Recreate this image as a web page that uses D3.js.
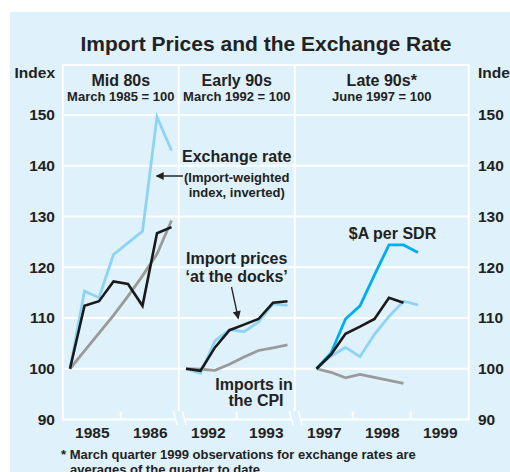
<!DOCTYPE html>
<html>
<head>
<meta charset="utf-8">
<style>
    body { margin: 0; background: #fff; }
    text { font-family: "Liberation Sans", Arial, sans-serif; font-weight: bold; fill: #222; }
</style>
</head>
<body>
<div id="vis"></div>
<script src="https://d3js.org/d3.v7.min.js"></script>
<script>
    // y axis ticks (index)
    let yTicks = [90, 100, 110, 120, 130, 140, 150];

    // the three episodes
    let panelNames = ["Mid 80s", "Early 90s", "Late 90s*"];
    let panelBases = ["March 1985 = 100", "March 1992 = 100", "June 1997 = 100"];
    let panelYears = [[1985, 1986], [1992, 1993], [1997, 1998, 1999]];
    // start of the first quarter shown in each panel
    let panelStarts = [1985, 1992, 1997.25];

    // quarterly series, mid 80s (Mar 1985 - Dec 1986)
    let exchMid80s = [100, 115.3, 114, 122.5, 124.8, 127.1, 149.6, 143];
    let importMid80s = [100, 112.4, 113.3, 117.2, 116.7, 112.4, 126.7, 127.9];
    let cpiMid80s = [100, 103.5, 107, 110.5, 114.3, 118.3, 122.6, 129.2];

    // early 90s (Mar 1992 - Dec 1993)
    let exchEarly90s = [100, 99.1, 105.5, 107.7, 107.3, 109.2, 112.8, 112.5];
    let importEarly90s = [100, 99.6, 104.2, 107.6, 108.7, 109.8, 113, 113.3];
    let cpiEarly90s = [100, 99.9, 99.7, 100.9, 102.3, 103.6, 104.1, 104.7];

    // late 90s (Jun 1997 - Mar 1999)
    let sdrLate90s = [100, 103.1, 109.8, 112.4, 118.5, 124.4, 124.4, 122.9];
    let exchLate90s = [100, 102.5, 104.2, 102.4, 106.8, 110.3, 113.3, 112.6];
    let importLate90s = [100, 102.8, 106.9, 108.3, 109.8, 114, 113];
    let cpiLate90s = [100, 99.3, 98.2, 98.9, 98.3, 97.7, 97.1];

    let colors = {exch: "#8dd4f4", sdr: "#00aeef", imp: "#1a1a1a", cpi: "#9a9a9a"};

    let panelSeries = [
        [["cpi", cpiMid80s], ["exch", exchMid80s], ["imp", importMid80s]],
        [["cpi", cpiEarly90s], ["exch", exchEarly90s], ["imp", importEarly90s]],
        [["cpi", cpiLate90s], ["exch", exchLate90s], ["sdr", sdrLate90s], ["imp", importLate90s]]
    ];

    let width = 510, height = 472;
    let plotLeft = 62.75, plotTop = 65, yearWidth = 58;
    let plotRight = plotLeft + yearWidth * 7;

    let svg = d3.select("#vis")
        .append("svg")
        .attr("width", width)
        .attr("height", height);

    // background panel
    svg.append("rect")
        .attr("x", 10).attr("y", 12)
        .attr("width", width).attr("height", height)
        .attr("fill", "#dff1fa");

    svg.append("text")
        .attr("x", 266).attr("y", 51)
        .attr("text-anchor", "middle")
        .style("font-size", "21px")
        .text("Import Prices and the Exchange Rate");

    let y = d3.scaleLinear()
        .domain([90, 150])
        .range([419.5, 115]);

    // gridlines
    svg.append("g")
        .selectAll("line")
        .data(yTicks.slice(1))
        .enter()
        .append("line")
        .attr("x1", plotLeft).attr("x2", plotRight)
        .attr("y1", d => y(d)).attr("y2", d => y(d))
        .attr("stroke", "#fff").attr("stroke-width", 2);

    // header top and outer border
    svg.append("line")
        .attr("x1", plotLeft - 1).attr("x2", plotRight + 1)
        .attr("y1", plotTop).attr("y2", plotTop)
        .attr("stroke", "#fff").attr("stroke-width", 2);
    [plotLeft, plotRight].forEach(function (px) {
        svg.append("line")
            .attr("x1", px).attr("x2", px)
            .attr("y1", plotTop).attr("y2", y(90))
            .attr("stroke", "#fff").attr("stroke-width", 2);
    });

    // y labels both sides
    let yAxisL = d3.axisLeft(y).tickValues(yTicks).tickSize(0).tickPadding(0);
    let gl = svg.append("g").attr("transform", "translate(55,0)").call(yAxisL);
    let yAxisR = d3.axisRight(y).tickValues(yTicks).tickSize(0).tickPadding(0);
    let gr = svg.append("g").attr("transform", "translate(478,0)").call(yAxisR);
    [gl, gr].forEach(function (g) {
        g.select(".domain").remove();
        g.selectAll("text")
            .style("font-size", "15.5px")
            .attr("fill", "#222");
        g.attr("font-family", null);
    });

    svg.append("text").attr("x", 55).attr("y", 78)
        .attr("text-anchor", "end").style("font-size", "15.5px").text("Index");
    svg.append("text").attr("x", 478).attr("y", 78)
        .style("font-size", "15.5px").text("Index");

    let arrowDefs = svg.append("defs");
    arrowDefs.append("marker")
        .attr("id", "arrow")
        .attr("viewBox", "0 0 10 10")
        .attr("refX", 9).attr("refY", 5)
        .attr("markerWidth", 9).attr("markerHeight", 8)
        .attr("markerUnits", "userSpaceOnUse")
        .attr("orient", "auto")
        .append("path")
        .attr("d", "M0,0 L10,5 L0,10 z")
        .attr("fill", "#222");

    let x0 = plotLeft;
    panelYears.forEach(function (years, p) {
        let x1 = x0 + yearWidth * years.length;
        let x = d3.scaleLinear()
            .domain([years[0], years[years.length - 1] + 1])
            .range([x0, x1]);
        let cx = (x0 + x1) / 2;

        // header text
        svg.append("text").attr("x", cx).attr("y", 86)
            .attr("text-anchor", "middle").style("font-size", "16px")
            .text(panelNames[p]);
        svg.append("text").attr("x", cx).attr("y", 101)
            .attr("text-anchor", "middle").style("font-size", "13px")
            .text(panelBases[p]);

        // panel separator and axis break
        if (p > 0) {
            svg.append("line")
                .attr("x1", x0).attr("x2", x0)
                .attr("y1", plotTop).attr("y2", 411)
                .attr("stroke", "#fff").attr("stroke-width", 2);
            [-5.5, 3.5].forEach(function (dx) {
                svg.append("line")
                    .attr("x1", x0 + dx).attr("x2", x0 + dx + 4)
                    .attr("y1", 411).attr("y2", 425)
                    .attr("stroke", "#fff").attr("stroke-width", 1.5);
            });
        }
        let a0 = p > 0 ? x0 + 5 : x0 - 1;
        let a1 = p < panelYears.length - 1 ? x1 - 3.5 : x1 + 1;
        svg.append("line")
            .attr("x1", a0).attr("x2", a1)
            .attr("y1", y(90)).attr("y2", y(90))
            .attr("stroke", "#fff").attr("stroke-width", 2);

        // year ticks between years
        svg.append("g")
            .selectAll("line")
            .data(years.slice(1))
            .enter()
            .append("line")
            .attr("x1", d => x(d)).attr("x2", d => x(d))
            .attr("y1", y(90) - 8).attr("y2", y(90))
            .attr("stroke", "#fff").attr("stroke-width", 2);

        // year labels centred in each year
        let xAxis = d3.axisBottom(x)
            .tickValues(years.map(d => d + 0.5))
            .tickSize(0).tickPadding(0)
            .tickFormat(d => String(Math.floor(d)));
        let gx = svg.append("g")
            .attr("transform", "translate(0,427)")
            .call(xAxis);
        gx.select(".domain").remove();
        gx.attr("font-family", null);
        gx.selectAll("text")
            .style("font-size", "15.5px")
            .attr("fill", "#222");

        // series
        let line = d3.line()
            .x((d, i) => x(panelStarts[p] + i * 0.25 + 0.125))
            .y(d => y(d));
        panelSeries[p].forEach(function (s) {
            svg.append("path")
                .datum(s[1])
                .attr("d", line)
                .attr("fill", "none")
                .attr("stroke", colors[s[0]])
                .attr("stroke-width", s[0] === "imp" ? 2.6 : 2.8)
                .attr("stroke-linejoin", "miter");
        });

        x0 = x1;
    });

    // annotations
    function label(tx, ty, size, str) {
        svg.append("text").attr("x", tx).attr("y", ty)
            .attr("text-anchor", "middle")
            .style("font-size", size + "px")
            .text(str);
    }
    label(236.7, 161.5, 16, "Exchange rate");
    label(236.7, 182, 13, "(Import-weighted");
    label(236.7, 196.5, 13, "index, inverted)");
    label(236.7, 264, 16, "Import prices");
    label(236.7, 281.5, 16, "\u2018at the docks\u2019");
    label(254, 390, 16, "Imports in");
    label(256, 406, 16, "the CPI");
    label(392.5, 238.5, 16, "$A per SDR");

    svg.append("line")
        .attr("x1", 183).attr("y1", 176)
        .attr("x2", 156.5).attr("y2", 176)
        .attr("stroke", "#333").attr("stroke-width", 1.6)
        .attr("marker-end", "url(#arrow)");
    svg.append("line")
        .attr("x1", 231.5).attr("y1", 287)
        .attr("x2", 238.3).attr("y2", 318.5)
        .attr("stroke", "#222").attr("stroke-width", 1.3)
        .attr("marker-end", "url(#arrow)");

    // footnote
    svg.append("text").attr("x", 61).attr("y", 459)
        .style("font-size", "13px")
        .text("* March quarter 1999 observations for exchange rates are");
    svg.append("text").attr("x", 70).attr("y", 474)
        .style("font-size", "13px")
        .text("averages of the quarter to date.");
</script>
</body>
</html>
